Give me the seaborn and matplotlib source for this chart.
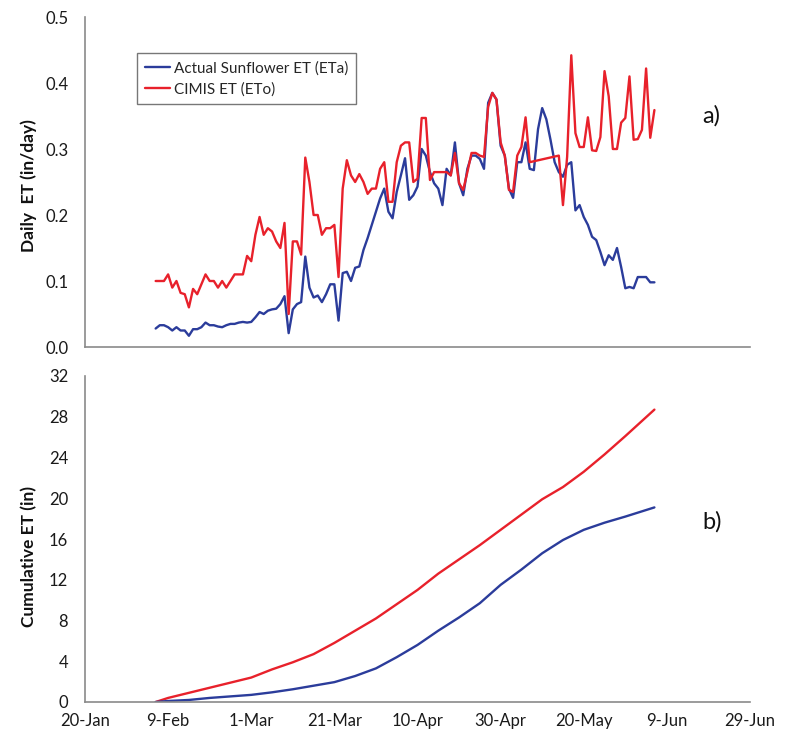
import numpy as np
import pandas as pd
import matplotlib
matplotlib.use("Agg")
import matplotlib.pyplot as plt
import seaborn as sns

# ---------------- data ----------------
day_of_year = list(range(37, 158))  # 6-Feb .. 6-Jun

eta_daily = [
    0.028, 0.033, 0.033, 0.030, 0.025, 0.030, 0.025, 0.025, 0.017, 0.027,
    0.027, 0.030, 0.037, 0.033, 0.033, 0.031, 0.030, 0.033, 0.035, 0.035,
    0.037, 0.038, 0.037, 0.038, 0.045, 0.053, 0.050, 0.055, 0.057, 0.058,
    0.065, 0.077, 0.021, 0.057, 0.065, 0.068, 0.137, 0.090, 0.075, 0.078,
    0.068, 0.080, 0.095, 0.095, 0.040, 0.112, 0.114, 0.100, 0.120, 0.122,
    0.147, 0.165, 0.185, 0.205, 0.225, 0.240, 0.205, 0.195, 0.235, 0.260,
    0.286, 0.223, 0.230, 0.243, 0.300, 0.290, 0.265, 0.248, 0.240, 0.215,
    0.270, 0.260, 0.310, 0.248, 0.230, 0.270, 0.290, 0.290, 0.285, 0.270,
    0.370, 0.385, 0.375, 0.305, 0.290, 0.240, 0.226, 0.280, 0.280, 0.310,
    0.270, 0.268, 0.330, 0.362, 0.345, 0.314, 0.280, 0.265, 0.258, 0.276,
    0.280, 0.207, 0.215, 0.197, 0.185, 0.167, 0.162, 0.144, 0.124, 0.139,
    0.132, 0.150, 0.121, 0.089, 0.091, 0.089, 0.106, 0.106, 0.106, 0.098,
    0.098,
]

eto_daily = [
    0.100, 0.100, 0.100, 0.110, 0.090, 0.100, 0.082, 0.080, 0.060, 0.088,
    0.080, 0.095, 0.110, 0.100, 0.100, 0.090, 0.100, 0.090, 0.100, 0.110,
    0.110, 0.110, 0.138, 0.130, 0.170, 0.197, 0.170, 0.180, 0.175, 0.160,
    0.150, 0.188, 0.050, 0.160, 0.160, 0.140, 0.287, 0.250, 0.200, 0.200,
    0.170, 0.180, 0.180, 0.185, 0.106, 0.240, 0.283, 0.260, 0.250, 0.262,
    0.250, 0.232, 0.240, 0.240, 0.270, 0.280, 0.220, 0.220, 0.280, 0.305,
    0.310, 0.310, 0.250, 0.255, 0.347, 0.347, 0.253, 0.265, 0.265, 0.265,
    0.265, 0.260, 0.294, 0.248, 0.238, 0.265, 0.294, 0.294, 0.290, 0.288,
    0.364, 0.385, 0.375, 0.310, 0.290, 0.238, 0.235, 0.290, 0.303, 0.348,
    0.280, np.nan, np.nan, np.nan, np.nan, np.nan, np.nan, 0.290, 0.215, 0.288,
    0.442, 0.324, 0.303, 0.303, 0.348, 0.298, 0.297, 0.318, 0.418, 0.380,
    0.300, 0.300, 0.340, 0.347, 0.410, 0.314, 0.315, 0.329, 0.422, 0.317,
    0.359,
]

cum_days = [37, 40, 45, 50, 55, 60, 65, 70, 75, 80, 85, 90, 95, 100, 105,
            110, 115, 120, 125, 130, 135, 140, 145, 150, 157]
eta_cum = [0.0, 0.1, 0.2, 0.4, 0.55, 0.7, 0.95, 1.25, 1.6, 1.95, 2.55, 3.3,
           4.4, 5.6, 7.0, 8.3, 9.7, 11.5, 13.0, 14.6, 15.9, 16.9, 17.6, 18.2,
           19.1]
eto_cum = [0.0, 0.4, 0.9, 1.4, 1.9, 2.4, 3.2, 3.9, 4.7, 5.8, 7.0, 8.2, 9.6,
           11.0, 12.6, 14.0, 15.4, 16.9, 18.4, 19.9, 21.1, 22.6, 24.3, 26.1,
           28.7]

tick_doy = [20, 40, 60, 80, 100, 120, 140, 160, 180]
tick_labels = ["20-Jan", "9-Feb", "1-Mar", "21-Mar", "10-Apr", "30-Apr",
               "20-May", "9-Jun", "29-Jun"]

series_names = ["Actual Sunflower ET (ETa)", "CIMIS ET (ETo)"]
BLUE = "#2b3c9b"
RED = "#e8212b"

# ---------------- style ----------------
sns.set_theme(style="white")
plt.rcParams["font.family"] = ["Lato", "DejaVu Sans"]
plt.rcParams["axes.edgecolor"] = "#8a8a8a"

fig = plt.figure(figsize=(7.87, 7.34), dpi=100)
W, H = 787, 734
ax1 = fig.add_axes([85 / W, (H - 347) / H, 665 / W, 330 / H])
ax2 = fig.add_axes([85 / W, (H - 702) / H, 665 / W, 326 / H])

daily = pd.DataFrame({"doy": day_of_year, "eta": eta_daily, "eto": eto_daily})
d_eta = daily[["doy", "eta"]].dropna()
d_eto = daily[["doy", "eto"]].dropna()

sns.lineplot(data=d_eta, x="doy", y="eta", ax=ax1, color=BLUE, lw=1.7,
             label=series_names[0])
sns.lineplot(data=d_eto, x="doy", y="eto", ax=ax1, color=RED, lw=1.7,
             label=series_names[1])

cum = pd.DataFrame({"doy": cum_days, "eta": eta_cum, "eto": eto_cum})
sns.lineplot(data=cum, x="doy", y="eto", ax=ax2, color=RED, lw=1.7)
sns.lineplot(data=cum, x="doy", y="eta", ax=ax2, color=BLUE, lw=1.7)

for ax in (ax1, ax2):
    ax.set_xlim(20, 180)
    ax.set_xticks(tick_doy)
    for s in ("top", "right"):
        ax.spines[s].set_visible(False)
    for s in ("left", "bottom"):
        ax.spines[s].set_linewidth(1.2)
    ax.tick_params(axis="both", direction="in", length=4, width=1,
                   color="#8a8a8a", labelsize=12, labelcolor="#1a1a1a")
    ax.tick_params(axis="y", pad=12)
    ax.tick_params(axis="x", pad=8)
    ax.set_xlabel("")

ax1.set_ylim(0, 0.5)
ax1.set_yticks([0.0, 0.1, 0.2, 0.3, 0.4, 0.5])
ax1.set_yticklabels(["0.0", "0.1", "0.2", "0.3", "0.4", "0.5"])
ax1.set_xticklabels([])
ax1.set_ylabel("Daily  ET (in/day)", fontsize=12.5, fontweight="bold",
               color="#111111")
ax1.yaxis.set_label_coords(-0.072, 0.49)

ax2.set_ylim(0, 32)
ax2.set_yticks(list(range(0, 33, 4)))
ax2.set_xticklabels(tick_labels)
ax2.set_ylabel("Cumulative ET (in)", fontsize=12.5, fontweight="bold",
               color="#111111")
ax2.yaxis.set_label_coords(-0.072, 0.445)

leg = ax1.legend(loc="upper left", bbox_to_anchor=(0.078, 0.89),
                 frameon=True, fancybox=False, fontsize=11,
                 handlelength=1.7, handletextpad=0.2, borderpad=0.5,
                 labelspacing=0.45, borderaxespad=0)
leg.get_frame().set_edgecolor("#555555")
leg.get_frame().set_linewidth(1.0)

ax1.text(0.928, 0.70, "a)", transform=ax1.transAxes, fontsize=17,
         va="center", ha="left", color="#111111")
ax2.text(0.928, 0.552, "b)", transform=ax2.transAxes, fontsize=17,
         va="center", ha="left", color="#111111")

fig.savefig("out.png", dpi=100, facecolor="white")
